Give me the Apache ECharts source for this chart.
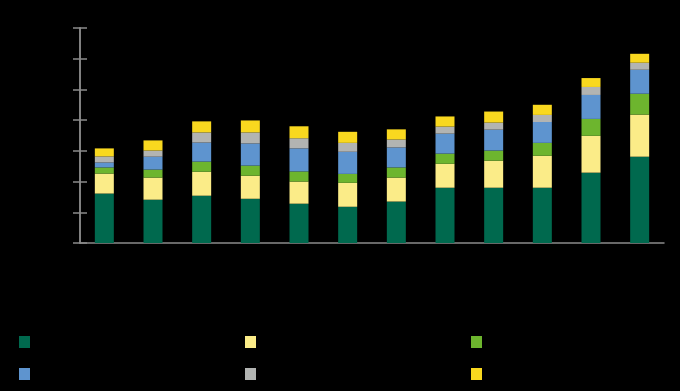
<!DOCTYPE html>
<html>
<head>
<meta charset="utf-8">
<script src="https://cdn.jsdelivr.net/npm/echarts@6/dist/echarts.min.js"></script>
<style>
html,body{margin:0;padding:0;background:#000;}
#chart{width:680px;height:391px;}
</style>
</head>
<body>
<div id="chart"></div>
<script>
var categories = ['2010','2011','2012','2013','2014','2015','2016','2017','2018','2019','2020','2021'];
var seriesNames = ['Series 1','Series 2','Series 3','Series 4','Series 5','Series 6'];
var s1 = [16.1, 14.1, 15.4, 14.4, 12.8, 11.8, 13.5, 18.0, 18.0, 18.0, 22.9, 28.1];
var s2 = [6.5, 7.2, 7.8, 7.5, 7.2, 7.8, 7.8, 7.8, 8.8, 10.4, 12.0, 13.7];
var s3 = [2.0, 2.6, 3.3, 3.3, 3.3, 2.9, 3.3, 3.3, 3.3, 4.2, 5.5, 6.8];
var s4 = [1.6, 4.2, 6.2, 7.2, 7.5, 7.2, 6.5, 6.5, 6.8, 6.8, 7.8, 7.8];
var s5 = [2.0, 2.0, 3.3, 3.6, 3.3, 2.9, 2.6, 2.3, 2.3, 2.3, 2.6, 2.3];
var s6 = [2.6, 3.3, 3.6, 3.9, 3.9, 3.6, 3.3, 3.3, 3.6, 3.3, 2.9, 2.9];
var yTicks = {min: 0, max: 70, interval: 10};
var colors = ['#00694E', '#FBEC88', '#6DB52E', '#5E94CF', '#B2B4B2', '#F9D81F'];

var allData = [s1, s2, s3, s4, s5, s6];
var series = allData.map(function (d, i) {
  return {
    name: seriesNames[i],
    type: 'bar',
    stack: 'total',
    barWidth: 19,
    data: d,
    itemStyle: {color: colors[i]},
    emphasis: {disabled: true}
  };
});

function yAxisCfg(inside) {
  return {
    type: 'value',
    min: yTicks.min, max: yTicks.max, interval: yTicks.interval,
    position: 'left',
    axisLine: {show: true, lineStyle: {color: '#8a8a8a', width: 1.5}},
    axisTick: {show: true, inside: inside, length: 7, lineStyle: {color: '#8a8a8a', width: 1.5}},
    axisLabel: {show: !inside, color: '#000', fontFamily: 'Liberation Sans', fontSize: 11},
    splitLine: {show: false}
  };
}

var legendStyle = {
  orient: 'vertical', top: 331, icon: 'rect', itemWidth: 11, itemHeight: 12, itemGap: 20,
  textStyle: {color: '#000', fontFamily: 'Liberation Sans', fontSize: 11},
  selectedMode: false
};

var option = {
  backgroundColor: '#000',
  animation: false,
  color: colors,
  grid: {left: 80, right: 16, top: 28, bottom: 148, containLabel: false},
  legend: [
    Object.assign({left: 14, data: [seriesNames[0], seriesNames[3]]}, legendStyle),
    Object.assign({left: 240, data: [seriesNames[1], seriesNames[4]]}, legendStyle),
    Object.assign({left: 466, data: [seriesNames[2], seriesNames[5]]}, legendStyle)
  ],
  xAxis: {
    type: 'category',
    data: categories,
    axisLine: {show: true, lineStyle: {color: '#8a8a8a', width: 1.5}},
    axisTick: {show: false},
    axisLabel: {color: '#000', fontFamily: 'Liberation Sans', fontSize: 11}
  },
  yAxis: [yAxisCfg(false), yAxisCfg(true)],
  series: series
};

var chart = echarts.init(document.getElementById('chart'), null, {renderer: 'canvas'});
chart.setOption(option);
</script>
</body>
</html>
